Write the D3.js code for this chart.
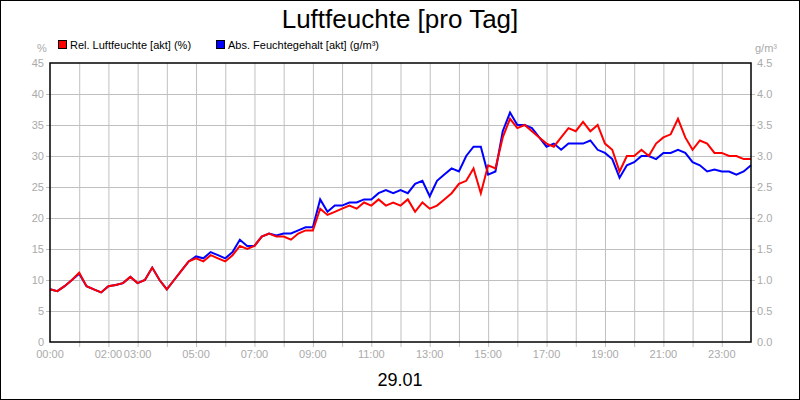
<!DOCTYPE html><html><head><meta charset="utf-8"><script src="https://cdn.jsdelivr.net/npm/d3@7"></script>
<style>body{margin:0}svg{font-family:"Liberation Sans",Arial,sans-serif}</style></head><body><svg id="c" width="800" height="400"></svg>
<script>
const hours = d3.range(0, 24.001, 0.25);
const relHum = [8.5,8.2,9,10,11.2,9,8.5,8,9,9.2,9.5,10.5,9.5,10,12,10,8.5,10,11.5,13,13.5,13,14,13.5,13,14,15.5,15,15.5,17,17.5,17,17,16.5,17.5,18,18,21.5,20.5,21,21.5,22,21.5,22.5,22,23,22,22.5,22,23,21,22.5,21.5,22,23,24,25.5,26,28,24,28.5,28,33,36,34.5,35,34,33,32,31.5,33,34.5,34,35.5,34,35,32,31,27.5,30,30,31,30,32,33,33.5,36,33,31,32.5,32,30.5,30.5,30,30,29.5,29.5];
const absHum = [0.85,0.82,0.9,1.0,1.1,0.9,0.85,0.8,0.9,0.92,0.95,1.05,0.95,1.0,1.2,1.0,0.85,1.0,1.15,1.3,1.38,1.35,1.45,1.4,1.35,1.45,1.65,1.55,1.55,1.7,1.75,1.72,1.75,1.75,1.8,1.85,1.85,2.3,2.1,2.2,2.2,2.25,2.25,2.3,2.3,2.4,2.45,2.4,2.45,2.4,2.55,2.6,2.35,2.6,2.7,2.8,2.75,3.0,3.15,3.15,2.7,2.75,3.4,3.7,3.5,3.5,3.45,3.3,3.15,3.2,3.1,3.2,3.2,3.2,3.25,3.1,3.05,2.95,2.65,2.85,2.9,3.0,3.0,2.95,3.05,3.05,3.1,3.05,2.9,2.85,2.75,2.78,2.75,2.75,2.7,2.75,2.85];
const leftTicks = d3.range(0, 46, 5);
const rightTicks = d3.range(0, 4.51, 0.5);
const xLabels = [0,2,3,5,7,9,11,13,15,17,19,21,23];

const svg = d3.select("#c");
const L=50,R=751,T=63,B=342;
svg.append("rect").attr("x",0.5).attr("y",0.5).attr("width",799).attr("height",399).attr("fill","#fff").attr("stroke","#000");
const x = d3.scaleLinear().domain([0,24]).range([L,R]);
const yL = d3.scaleLinear().domain([0,45]).range([B,T]);
const yR = d3.scaleLinear().domain([0,4.5]).range([B,T]);
const g = svg.append("g");
g.selectAll(".vg").data(d3.range(1,24)).join("line").attr("x1",d=>x(d)+.5).attr("x2",d=>x(d)+.5).attr("y1",T).attr("y2",B+5).attr("stroke","#c0c0c0");
g.selectAll(".hg").data(leftTicks.slice(1,-1)).join("line").attr("x1",L-4).attr("x2",R+4).attr("y1",d=>Math.round(yL(d))+.5).attr("y2",d=>Math.round(yL(d))+.5).attr("stroke","#c0c0c0");
const gray="#aaa";
g.selectAll(".lt").data(leftTicks).join("text").attr("x",L-6).attr("y",d=>yL(d)+4).attr("text-anchor","end").attr("font-size",11).attr("fill",gray).text(d=>d);
g.selectAll(".rt").data(rightTicks).join("text").attr("x",R+6).attr("y",d=>yR(d)+4).attr("font-size",11).attr("fill",gray).text(d=>d.toFixed(1));
g.selectAll(".xt").data(xLabels).join("text").attr("x",d=>x(d)).attr("y",B+16).attr("text-anchor","middle").attr("font-size",11).attr("fill",gray).text(d=>String(d).padStart(2,"0")+":00");
svg.append("text").attr("x",42).attr("y",52).attr("text-anchor","middle").attr("font-size",11).attr("fill",gray).text("%");
svg.append("text").attr("x",766).attr("y",52).attr("text-anchor","middle").attr("font-size",11).attr("fill",gray).text("g/m³");
const lr = d3.line().x((d,i)=>x(hours[i])).y(d=>yL(d));
const la = d3.line().x((d,i)=>x(hours[i])).y(d=>yR(d));
svg.append("path").attr("d",la(absHum)).attr("fill","none").attr("stroke","#0000ff").attr("stroke-width",2);
svg.append("path").attr("d",lr(relHum)).attr("fill","none").attr("stroke","#ff0000").attr("stroke-width",2);
svg.append("rect").attr("x",L).attr("y",T).attr("width",R-L).attr("height",B-T).attr("fill","none").attr("stroke","#000").attr("stroke-width",1.5);
svg.append("text").attr("x",400).attr("y",28).attr("text-anchor","middle").attr("font-size",26).text("Luftfeuchte [pro Tag]");
svg.append("text").attr("x",400).attr("y",386).attr("text-anchor","middle").attr("font-size",18).text("29.01");
const leg=[["Rel. Luftfeuchte [akt] (%)","#ff0000",58],["Abs. Feuchtegehalt [akt] (g/m³)","#0000ff",216]];
leg.forEach(([t,c,lx])=>{svg.append("rect").attr("x",lx+.5).attr("y",40.5).attr("width",8).attr("height",8).attr("fill",c).attr("stroke","#000");
svg.append("text").attr("x",lx+12).attr("y",49).attr("font-size",11).text(t);});
</script></body></html>
